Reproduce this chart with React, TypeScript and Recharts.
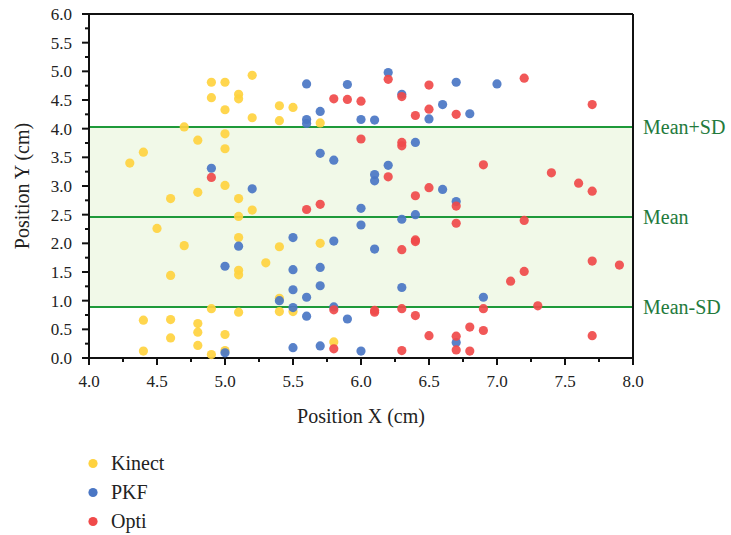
import {
  ScatterChart,
  Scatter,
  XAxis,
  YAxis,
  ReferenceArea,
  ReferenceLine,
  Legend,
} from 'recharts';

// [x, y] positions in cm
const KINECT: [number, number][] = [
  [4.3, 3.40], [4.4, 3.59], [4.7, 4.03], [4.8, 3.80], [4.9, 4.81], [5.0, 4.81],
  [4.9, 4.54], [5.1, 4.60], [5.1, 4.52], [5.0, 4.33], [5.2, 4.93], [5.2, 4.19],
  [5.0, 3.91], [5.0, 3.65], [5.0, 3.01], [4.8, 2.89], [5.1, 2.78], [4.6, 2.78],
  [5.1, 2.47], [5.2, 2.58], [4.5, 2.26], [4.7, 1.96], [5.1, 2.10], [5.1, 1.53],
  [5.1, 1.45], [4.6, 1.44], [4.9, 0.86], [5.1, 0.80], [4.4, 0.66], [4.6, 0.67],
  [4.8, 0.60], [4.8, 0.45], [4.6, 0.35], [5.0, 0.41], [4.8, 0.22], [4.4, 0.12],
  [4.9, 0.06], [5.0, 0.13], [5.4, 4.40], [5.5, 4.37], [5.4, 4.14], [5.7, 4.10],
  [5.4, 1.94], [5.7, 2.00], [5.3, 1.66], [5.4, 1.04], [5.5, 0.81], [5.4, 0.81],
  [5.8, 0.28],
];

const PKF: [number, number][] = [
  [4.9, 3.31], [5.2, 2.95], [5.1, 1.95], [5.0, 1.60], [5.0, 0.09], [5.6, 4.78],
  [5.6, 4.16], [5.6, 4.09], [5.7, 4.30], [5.9, 4.77], [6.0, 4.16], [6.1, 4.15],
  [6.2, 4.98], [6.3, 4.60], [6.5, 4.17], [6.6, 4.42], [5.7, 3.57], [5.8, 3.45],
  [6.4, 3.76], [6.2, 3.36], [6.1, 3.20], [6.1, 3.09], [6.6, 2.94], [6.0, 2.61],
  [6.0, 2.32], [6.3, 2.42], [6.4, 2.50], [5.5, 2.10], [5.8, 2.04], [6.1, 1.90],
  [5.5, 1.54], [5.7, 1.58], [5.7, 1.26], [5.5, 1.19], [5.6, 1.06], [6.3, 1.23],
  [5.4, 1.00], [5.5, 0.88], [5.6, 0.73], [5.8, 0.89], [5.9, 0.68], [5.5, 0.18],
  [5.7, 0.21], [6.0, 0.12], [6.7, 4.81], [7.0, 4.78], [6.8, 4.26], [6.7, 2.73],
  [6.9, 1.06], [6.7, 0.27],
];

const OPTI: [number, number][] = [
  [4.9, 3.15], [5.8, 4.52], [5.9, 4.51], [6.0, 4.48], [6.2, 4.86], [6.3, 4.56],
  [6.5, 4.76], [6.5, 4.34], [6.4, 4.23], [6.0, 3.82], [6.3, 3.76], [6.3, 3.70],
  [6.2, 3.16], [6.5, 2.97], [6.4, 2.83], [5.6, 2.59], [5.7, 2.68], [6.3, 1.89],
  [6.4, 2.06], [6.4, 2.03], [5.8, 0.84], [6.1, 0.83], [6.1, 0.80], [6.3, 0.86],
  [6.4, 0.74], [6.5, 0.39], [5.8, 0.16], [6.3, 0.13], [7.2, 4.88], [6.7, 4.25],
  [7.7, 4.42], [6.9, 3.37], [7.4, 3.23], [7.6, 3.05], [7.7, 2.91], [6.7, 2.65],
  [6.7, 2.35], [7.2, 2.40], [7.7, 1.69], [7.9, 1.62], [7.2, 1.51], [7.1, 1.34],
  [6.9, 0.86], [7.3, 0.91], [6.8, 0.54], [6.9, 0.48], [6.7, 0.38], [6.7, 0.14],
  [6.8, 0.12], [7.7, 0.39],
];

const MEAN = 2.46;
const SD = 1.57;

const X_TICKS = [4, 4.25, 4.5, 4.75, 5, 5.25, 5.5, 5.75, 6, 6.25, 6.5, 6.75, 7, 7.25, 7.5, 7.75, 8];
const Y_TICKS = [0, 0.25, 0.5, 0.75, 1, 1.25, 1.5, 1.75, 2, 2.25, 2.5, 2.75, 3, 3.25, 3.5, 3.75, 4, 4.25, 4.5, 4.75, 5, 5.25, 5.5, 5.75, 6];

const SERIES = [
  { name: 'Kinect', points: KINECT, color: '#FFD23F' },
  { name: 'PKF', points: PKF, color: '#4A76C4' },
  { name: 'Opti', points: OPTI, color: '#F04A4A' },
];

const FONT = "'Liberation Serif', 'Times New Roman', serif";
const GREEN = '#1E9A3A';
const LABEL_GREEN = '#237A3C';

const isMajor = (v: number) => Math.abs(v * 2 - Math.round(v * 2)) < 1e-6;

function XTick({ x, y, payload }: any) {
  const v = payload.value as number;
  const major = isMajor(v);
  return (
    <g>
      <line x1={x} x2={x} y1={y} y2={y + (major ? 7 : 4)} stroke="#111" strokeWidth={2} />
      {major && (
        <text x={x} y={y + 29} textAnchor="middle" fontSize={17} fontFamily={FONT} fill="#222">
          {v.toFixed(1)}
        </text>
      )}
    </g>
  );
}

function YTick({ x, y, payload }: any) {
  const v = payload.value as number;
  const major = isMajor(v);
  return (
    <g>
      <line x1={x - (major ? 7 : 4)} x2={x} y1={y} y2={y} stroke="#111" strokeWidth={2} />
      {major && (
        <text x={x - 17} y={y + 6} textAnchor="end" fontSize={17} fontFamily={FONT} fill="#222">
          {v.toFixed(1)}
        </text>
      )}
    </g>
  );
}

function Dot({ cx, cy, fill }: any) {
  return <circle cx={cx} cy={cy} r={4.6} fill={fill} fillOpacity={0.92} />;
}

function LegendBox() {
  return (
    <div style={{ fontFamily: FONT, fontSize: 20, color: '#222' }}>
      {SERIES.map((s) => (
        <div key={s.name} style={{ display: 'flex', alignItems: 'center', height: 29 }}>
          <svg width={22} height={29}>
            <circle cx={9} cy={14.5} r={4.6} fill={s.color} />
          </svg>
          <span style={{ marginLeft: 5 }}>{s.name}</span>
        </div>
      ))}
    </div>
  );
}

export default function App() {
  return (
    <div style={{ position: 'absolute', left: 0, top: 0, width: 731, height: 535, background: '#fff' }}>
      <ScatterChart width={731} height={535} margin={{ top: 14, right: 98, bottom: 97, left: 0 }}>
        <XAxis
          type="number"
          dataKey="x"
          domain={[4, 8]}
          ticks={X_TICKS}
          interval={0}
          tick={<XTick />}
          tickLine={false}
          tickSize={0}
          tickMargin={0}
          height={80}
          axisLine={{ stroke: '#111', strokeWidth: 2 }}
          label={{ value: 'Position X (cm)', position: 'insideTop', offset: 51, fontSize: 20, fontFamily: FONT, fill: '#222' }}
        />
        <YAxis
          type="number"
          dataKey="y"
          domain={[0, 6]}
          ticks={Y_TICKS}
          interval={0}
          tick={<YTick />}
          tickLine={false}
          tickSize={0}
          tickMargin={0}
          width={89}
          axisLine={{ stroke: '#111', strokeWidth: 2 }}
          label={{ value: 'Position Y (cm)', angle: -90, position: 'insideLeft', offset: 22, fontSize: 20, fontFamily: FONT, fill: '#222', style: { textAnchor: 'middle' } }}
        />
        <ReferenceArea y1={MEAN - SD} y2={MEAN + SD} fill="#F1F9E8" fillOpacity={1} stroke="none" />
        <ReferenceLine
          y={MEAN + SD}
          stroke={GREEN}
          strokeWidth={2}
          label={{ value: 'Mean+SD', position: 'right', offset: 10, fill: LABEL_GREEN, fontSize: 20, fontFamily: FONT }}
        />
        <ReferenceLine
          y={MEAN}
          stroke={GREEN}
          strokeWidth={2}
          label={{ value: 'Mean', position: 'right', offset: 10, fill: LABEL_GREEN, fontSize: 20, fontFamily: FONT }}
        />
        <ReferenceLine
          y={MEAN - SD}
          stroke={GREEN}
          strokeWidth={2}
          label={{ value: 'Mean-SD', position: 'right', offset: 10, fill: LABEL_GREEN, fontSize: 20, fontFamily: FONT }}
        />
        <ReferenceLine y={6} stroke="#111" strokeWidth={2} />
        <ReferenceLine x={8} stroke="#111" strokeWidth={2} />
        {SERIES.map((s) => (
          <Scatter
            key={s.name}
            name={s.name}
            data={s.points.map(([x, y]) => ({ x, y }))}
            fill={s.color}
            shape={<Dot />}
            isAnimationActive={false}
          />
        ))}
        <Legend
          layout="vertical"
          align="center"
          verticalAlign="middle"
          wrapperStyle={{ left: 84, top: 449, width: 150 }}
          content={<LegendBox />}
        />
      </ScatterChart>
    </div>
  );
}
